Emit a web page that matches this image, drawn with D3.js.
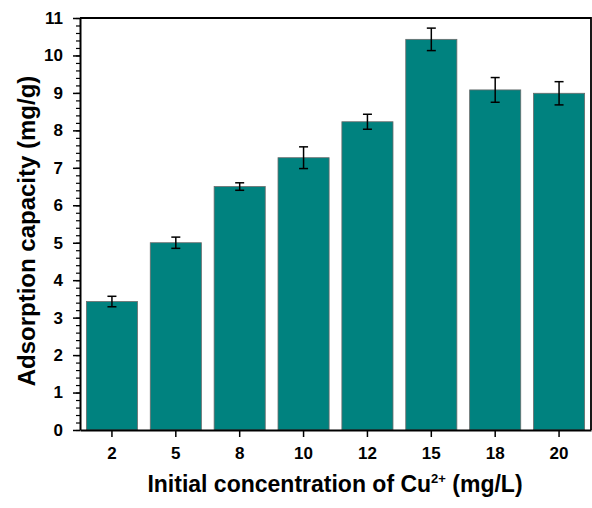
<!DOCTYPE html>
<html>
<head>
<meta charset="utf-8">
<script src="https://cdn.jsdelivr.net/npm/d3@7"></script>
<style>
  body { margin: 0; background: #fff; }
  svg text { font-family: "Liberation Sans", Arial, sans-serif; font-weight: bold; }
</style>
</head>
<body>
<svg id="chart" width="592" height="508"></svg>
<script>
// data
var concentrations = ["2", "5", "8", "10", "12", "15", "18", "20"];
var capacity = [3.43, 5.00, 6.50, 7.27, 8.23, 10.43, 9.08, 8.99];
var errors = [0.14, 0.15, 0.10, 0.29, 0.20, 0.30, 0.33, 0.31];
var yTicks = [0, 1, 2, 3, 4, 5, 6, 7, 8, 9, 10, 11];

var plotLeft = 80, plotRight = 591, plotTop = 18, plotBottom = 430;
var svg = d3.select("#chart");

var x = d3.scaleBand()
    .domain(concentrations)
    .range([plotLeft, plotRight])
    .paddingInner(0.2)
    .paddingOuter(0.1);

var y = d3.scaleLinear()
    .domain([0, 11])
    .range([plotBottom, plotTop]);

// bars
svg.selectAll("rect.bar")
    .data(capacity)
    .enter().append("rect")
    .attr("class", "bar")
    .attr("x", function(d, i){ return x(concentrations[i]); })
    .attr("y", function(d){ return y(d); })
    .attr("width", x.bandwidth())
    .attr("height", function(d){ return y(0) - y(d); })
    .attr("fill", "#00827f")
    .attr("stroke", "#6b6b6b")
    .attr("stroke-width", 0.8);

// error bars
var err = svg.selectAll("g.err")
    .data(capacity)
    .enter().append("g")
    .attr("class", "err")
    .attr("stroke", "#000")
    .attr("stroke-width", 1.5);
err.append("line")
    .attr("x1", function(d, i){ return x(concentrations[i]) + x.bandwidth() / 2; })
    .attr("x2", function(d, i){ return x(concentrations[i]) + x.bandwidth() / 2; })
    .attr("y1", function(d, i){ return y(d + errors[i]); })
    .attr("y2", function(d, i){ return y(d - errors[i]); });
[1, -1].forEach(function(s){
    err.append("line")
        .attr("x1", function(d, i){ return x(concentrations[i]) + x.bandwidth() / 2 - 4.5; })
        .attr("x2", function(d, i){ return x(concentrations[i]) + x.bandwidth() / 2 + 4.5; })
        .attr("y1", function(d, i){ return y(d + s * errors[i]); })
        .attr("y2", function(d, i){ return y(d + s * errors[i]); });
});

// minor y ticks
var minor = d3.range(0, 11.001, 0.2);
svg.append("g")
    .attr("transform", "translate(" + plotLeft + ",0)")
    .call(d3.axisLeft(y).tickValues(minor).tickSize(4).tickFormat(""))
    .call(function(g){ g.select(".domain").remove(); })
    .selectAll("line").attr("stroke-width", 1.2);

// y axis
var yAxis = svg.append("g")
    .attr("transform", "translate(" + plotLeft + ",0)")
    .call(d3.axisLeft(y).tickValues(yTicks).tickSize(7).tickSizeOuter(0).tickPadding(10));
yAxis.selectAll("text").attr("font-size", 17).attr("fill", "#000");
yAxis.selectAll("line").attr("stroke-width", 1.5);
yAxis.select(".domain").attr("stroke-width", 2);

// x axis
var xAxis = svg.append("g")
    .attr("transform", "translate(0," + plotBottom + ")")
    .call(d3.axisBottom(x).tickSize(7).tickSizeOuter(0).tickPadding(10));
xAxis.selectAll("text").attr("font-size", 17).attr("fill", "#000");
xAxis.selectAll("line").attr("stroke-width", 1.5);
xAxis.select(".domain").attr("stroke-width", 2);

// frame top and right
svg.append("path")
    .attr("d", "M" + plotLeft + "," + plotTop + "H" + plotRight + "V" + plotBottom)
    .attr("fill", "none")
    .attr("stroke", "#000")
    .attr("stroke-width", 1.8);

// axis titles
svg.append("text")
    .attr("transform", "translate(35,231) rotate(-90)")
    .attr("text-anchor", "middle")
    .attr("font-size", 24)
    .text("Adsorption capacity (mg/g)");

var xt = svg.append("text")
    .attr("x", 335)
    .attr("y", 492)
    .attr("text-anchor", "middle")
    .attr("font-size", 23);
xt.append("tspan").text("Initial concentration of Cu");
xt.append("tspan").attr("font-size", 13).attr("dy", -9).text("2+");
xt.append("tspan").attr("dy", 9).text(" (mg/L)");
</script>
</body>
</html>
